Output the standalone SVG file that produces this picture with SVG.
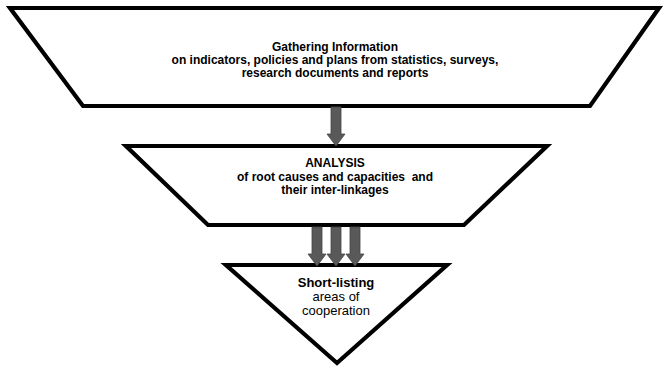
<svg xmlns="http://www.w3.org/2000/svg" width="665" height="368" viewBox="0 0 665 368">
<style>
.shape{fill:#fff;stroke:#000;stroke-width:4.2;stroke-linejoin:miter;stroke-miterlimit:10}
.t{font-family:"Liberation Sans",Arial,sans-serif;font-size:12px;fill:#000;text-anchor:middle}
.b{font-weight:bold}
.s{font-size:13px}
.arrow{fill:#595959;stroke:#454545;stroke-width:0.8}
</style>
<defs>
<path id="arr" d="M-5,0 H5 V27 H9 L0,39 L-9,27 H-5 Z"/>
</defs>
<rect width="665" height="368" fill="#fff"/>
<g id="gathering">
<polygon class="shape" points="10,8 659,8 590,106 83,106"/>
<text class="t b" x="335" y="51">Gathering Information</text>
<text class="t b" x="335" y="64">on indicators, policies and plans from statistics, surveys,</text>
<text class="t b" x="335" y="77">research documents and reports</text>
</g>
<g id="analysis">
<polygon class="shape" points="126,146 547,146 464,225 208,225"/>
<text class="t b" x="335" y="167">ANALYSIS</text>
<text class="t b" x="335" y="181" xml:space="preserve">of root causes and capacities  and</text>
<text class="t b" x="335" y="194">their inter-linkages</text>
</g>
<g id="shortlisting">
<polygon class="shape" points="226,265 447,265 337,363"/>
<text class="t b s" x="336" y="287">Short-listing</text>
<text class="t s" x="336" y="301">areas of</text>
<text class="t s" x="336" y="315">cooperation</text>
</g>
<g id="connectors">
<use href="#arr" class="arrow" x="336" y="107"/>
<use href="#arr" class="arrow" x="317" y="227"/>
<use href="#arr" class="arrow" x="336" y="227"/>
<use href="#arr" class="arrow" x="355" y="227"/>
</g>
</svg>
